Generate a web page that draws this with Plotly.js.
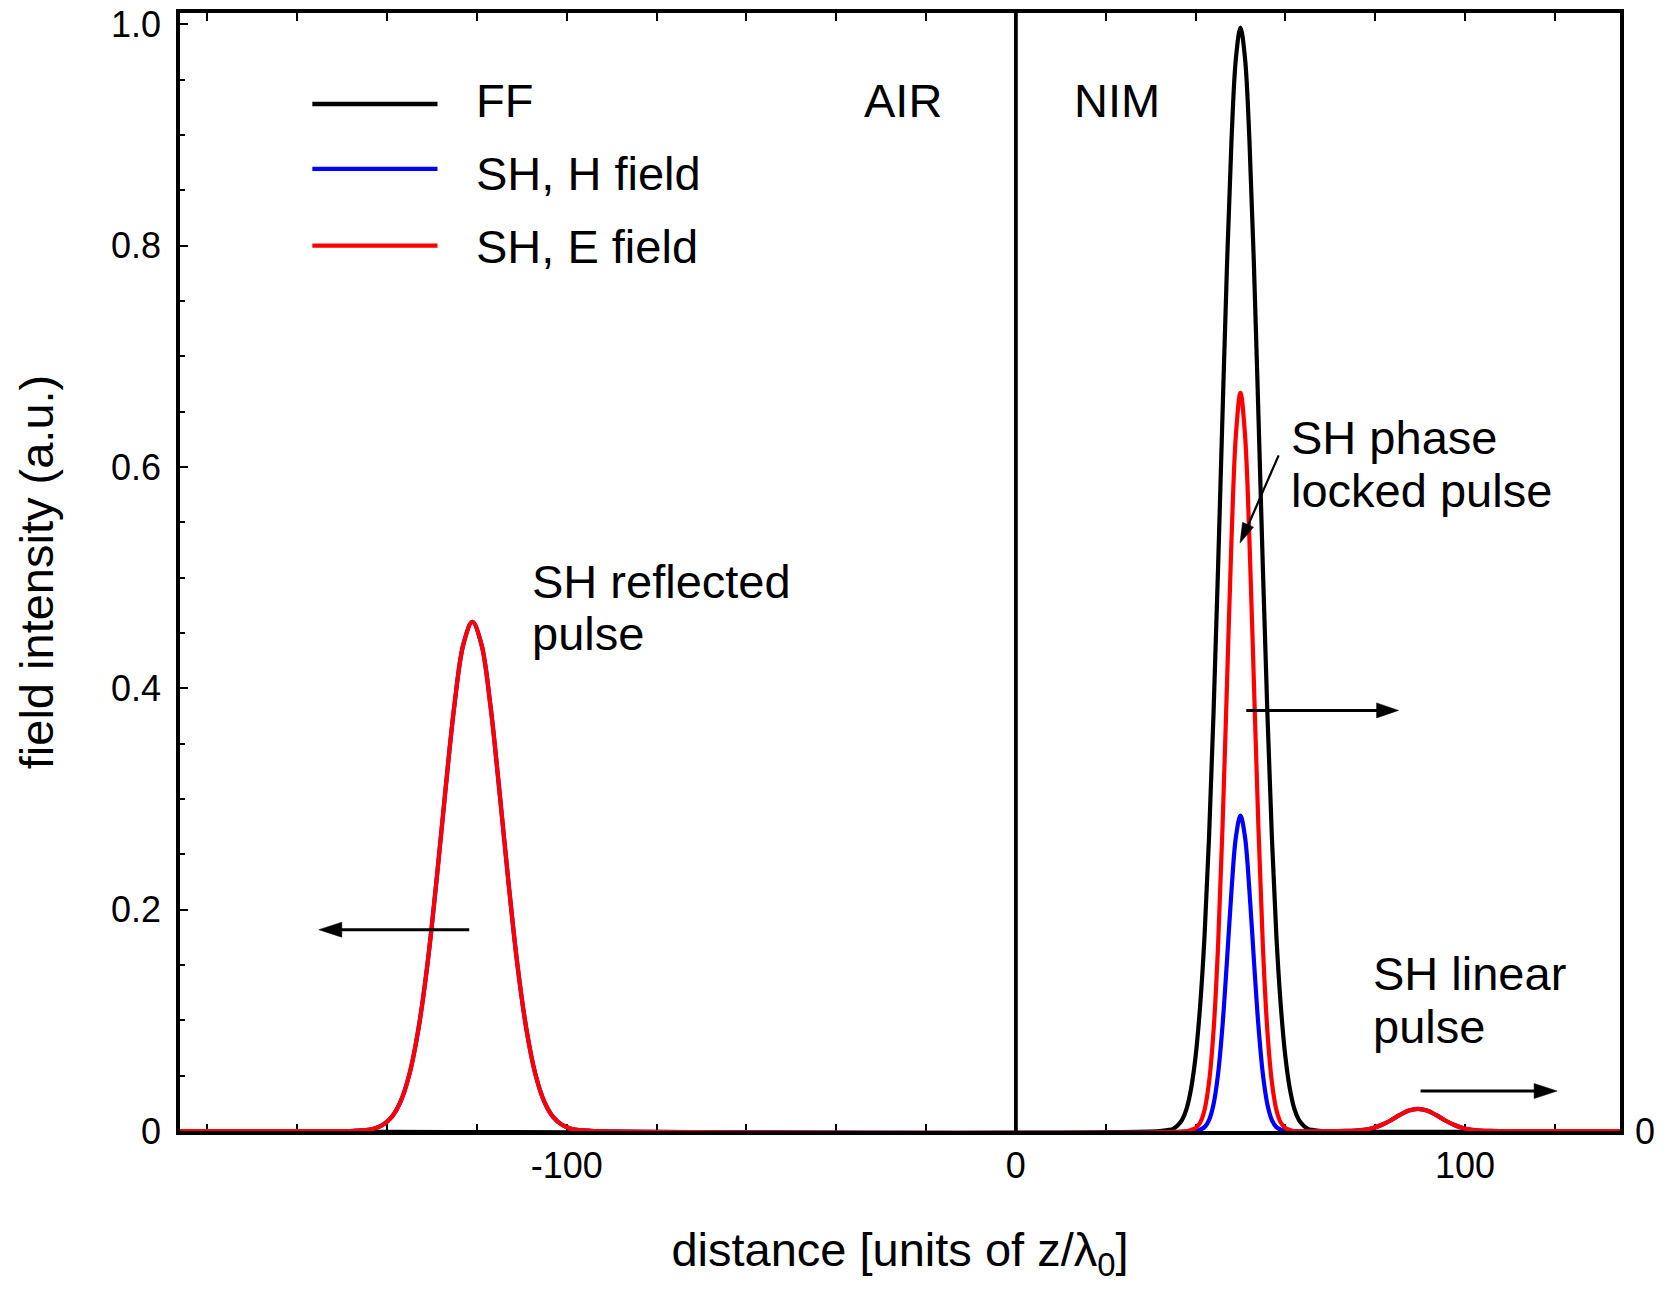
<!DOCTYPE html>
<html><head><meta charset="utf-8">
<script src="https://cdn.plot.ly/plotly-3.0.1.min.js"></script>
<style>html,body{margin:0;padding:0;background:#fff}#chart{width:1669px;height:1294px}</style>
</head><body><div id="chart"></div>
<script>
// ---- data ----
// distance axis in units of z/lambda0, intensity in a.u.
const ffX = [-190, 32, 34, 35, 36, 37, 38, 39, 40, 41, 42, 43, 44, 45, 46, 47, 48, 49, 50,
             51, 52, 53, 54, 55, 56, 57, 58, 59, 60, 61, 62, 63, 64, 65, 66, 68, 140];
const ffY = [0, 0, 0.001, 0.002, 0.005, 0.010, 0.020, 0.038, 0.067, 0.112, 0.176, 0.265, 0.377, 0.507, 0.647, 0.782, 0.895, 0.970, 0.997,
             0.970, 0.895, 0.782, 0.647, 0.507, 0.377, 0.265, 0.176, 0.112, 0.067, 0.038, 0.020, 0.010, 0.005, 0.002, 0.001, 0, 0];

// SH reflected pulse (in air)
const reflX = [-149, -147, -145, -143, -141, -139, -137, -135, -133, -131, -129, -127, -125, -123, -121,
               -119, -117, -115, -113, -111, -109, -107, -105, -103, -101, -99, -97, -95, -93];
const reflY = [0, 0.0003, 0.0008, 0.0021, 0.0054, 0.0125, 0.0266, 0.0518, 0.0926, 0.151, 0.226, 0.308, 0.385, 0.440, 0.460,
               0.440, 0.385, 0.308, 0.226, 0.151, 0.0926, 0.0518, 0.0266, 0.0125, 0.0054, 0.0021, 0.0008, 0.0003, 0];

// SH phase locked pulse, E field
const lockEX = [38, 39, 40, 41, 42, 43, 44, 45, 46, 47, 48, 49, 50, 51, 52, 53, 54, 55, 56, 57, 58, 59, 60, 61, 62];
const lockEY = [0, 0.001, 0.0026, 0.0074, 0.019, 0.044, 0.090, 0.166, 0.274, 0.404, 0.534, 0.630, 0.667,
                0.630, 0.534, 0.404, 0.274, 0.166, 0.090, 0.044, 0.019, 0.0074, 0.0026, 0.001, 0];

// SH phase locked pulse, H field
const lockHX = [40, 41, 42, 43, 44, 45, 46, 47, 48, 49, 50, 51, 52, 53, 54, 55, 56, 57, 58, 59, 60];
const lockHY = [0, 0.0011, 0.0035, 0.0099, 0.024, 0.051, 0.095, 0.154, 0.217, 0.266, 0.285,
                0.266, 0.217, 0.154, 0.095, 0.051, 0.024, 0.0099, 0.0035, 0.0011, 0];

// SH linear pulse
const linX = [71.5, 73.5, 75.5, 77.5, 79.5, 81.5, 83.5, 85.5, 87.5, 89.5, 91.5, 93.5, 95.5, 97.5, 99.5, 101.5, 103.5, 105.5, 107.5];
const linY = [0, 0.0001, 0.0004, 0.0011, 0.0027, 0.0056, 0.0097, 0.0145, 0.0185, 0.0200,
              0.0185, 0.0145, 0.0097, 0.0056, 0.0027, 0.0011, 0.0004, 0.0001, 0];

// baseline ends
const edgeX = [-190, 140];
const edgeY = [0, 0];

// AIR / NIM interface
const interfaceX = [0, 0];
const interfaceY = [0, 1.02];

const seriesNames = ['FF', 'SH, H field', 'SH, E field'];
const seriesColors = ['#000000', '#0000ff', '#ff0000'];

const xTickVals = [-100, 0, 100];
const xTickText = ['-100', '0', '100'];
const xMinorTickVals = [-180, -160, -140, -120, -80, -60, -40, -20, 20, 40, 60, 80, 120];
const yTickVals = [0, 0.2, 0.4, 0.6, 0.8, 1.0];
const yTickText = ['0', '0.2', '0.4', '0.6', '0.8', '1.0'];
const y2TickVals = [0];
const y2TickText = ['0'];

// ---- build ----
const shHX = [edgeX[0]].concat(reflX, lockHX, linX, [edgeX[1]]);
const shHY = [edgeY[0]].concat(reflY, lockHY, linY, [edgeY[1]]);
const shEX = [edgeX[0]].concat(reflX, lockEX, linX, [edgeX[1]]);
const shEY = [edgeY[0]].concat(reflY, lockEY, linY, [edgeY[1]]);

const FONT = '"Liberation Sans", Arial, Helvetica, sans-serif';
const LW = 4.2;

const traces = [
  {x: ffX, y: ffY, name: seriesNames[0], mode: 'lines', line: {color: seriesColors[0], width: LW, shape: 'spline'}, hoverinfo: 'skip'},
  {x: shHX, y: shHY, name: seriesNames[1], mode: 'lines', line: {color: seriesColors[1], width: LW, shape: 'spline'}, hoverinfo: 'skip'},
  {x: shEX, y: shEY, name: seriesNames[2], mode: 'lines', line: {color: seriesColors[2], width: LW, shape: 'spline'}, hoverinfo: 'skip'},
  {x: interfaceX, y: interfaceY, yaxis: 'y2', name: 'interface', mode: 'lines', line: {color: '#000', width: 3.8}, showlegend: false, hoverinfo: 'skip'}
];

// legend drawn by hand (long sample lines as in the reference)
const legY = [0.9186, 0.8605, 0.7919];
const legTextY = [0.9213, 0.856, 0.7907];
const shapes = [];
const annotations = [];
for (let i = 0; i < 3; i++) {
  shapes.push({type: 'line', xref: 'paper', yref: 'paper', x0: 0.0919, x1: 0.1788, y0: legY[i], y1: legY[i],
               line: {color: seriesColors[i], width: 4.3}});
  annotations.push({xref: 'paper', yref: 'paper', x: 0.2040, y: legTextY[i], xanchor: 'left', yanchor: 'middle',
                    text: seriesNames[i], showarrow: false, font: {size: 47, family: FONT, color: '#000'}});
}

function txt(x, y, t, anchor) {
  annotations.push({xref: 'paper', yref: 'paper', x: x, y: y, xanchor: anchor || 'left', yanchor: 'middle',
                    text: t, showarrow: false, font: {size: 47, family: FONT, color: '#000'}});
}
txt(0.5022, 0.9213, 'AIR', 'center');
txt(0.6507, 0.9213, 'NIM', 'center');
txt(0.2430, 0.4913, 'SH reflected');
txt(0.2430, 0.4452, 'pulse');
txt(0.7700, 0.6200, 'SH phase');
txt(0.7700, 0.5733, 'locked pulse');
txt(0.8270, 0.1413, 'SH linear');
txt(0.8270, 0.0939, 'pulse');

// arrows: line + filled slender head (pixel sized, anchored at the tip)
function arrowLine(x0, y0, x1, y1, w) {
  shapes.push({type: 'line', xref: 'x', yref: 'y', x0: x0, y0: y0, x1: x1, y1: y1, line: {color: '#000', width: w}});
}
function arrowHead(xt, yt, path) {
  shapes.push({type: 'path', xref: 'x', yref: 'y', xsizemode: 'pixel', ysizemode: 'pixel',
               xanchor: xt, yanchor: yt, path: path, fillcolor: '#000', line: {color: '#000', width: 0.5}});
}
// reflected pulse, moving left
arrowLine(-121.7, 0.1819, -151.5, 0.1819, 3);
arrowHead(-155.2, 0.1819, 'M0,0 L23,7.5 L23,-7.5 Z');
// phase locked pulse, moving right
arrowLine(51.3, 0.3801, 81.5, 0.3801, 3);
arrowHead(85.2, 0.3801, 'M0,0 L-22,7.5 L-22,-7.5 Z');
// linear pulse, moving right
arrowLine(90.1, 0.0361, 117.0, 0.0361, 3);
arrowHead(120.5, 0.0361, 'M0,0 L-23,7.5 L-23,-7.5 Z');
// pointer to locked pulse
arrowLine(58.5, 0.6105, 51.75, 0.5478, 2.2);
arrowHead(49.9, 0.5313, 'M0,0 L13.5,15.9 L2.5,20.7 Z');

const YR = [0, 1.0103];
const layout = {
  width: 1669, height: 1294,
  margin: {l: 180, r: 49, t: 13, b: 163},
  paper_bgcolor: '#ffffff', plot_bgcolor: '#ffffff',
  showlegend: false,
  font: {family: FONT, color: '#000', size: 36},
  xaxis: {
    range: [-186.1, 134.5], tickmode: 'array', tickvals: xTickVals, ticktext: xTickText,
    ticks: 'inside', ticklen: 7.5, tickwidth: 2, tickcolor: '#000',
    minor: {tickmode: 'array', tickvals: xMinorTickVals, ticks: 'inside', ticklen: 4.5, tickwidth: 2, tickcolor: '#000', showgrid: false},
    showline: true, linecolor: '#000', linewidth: 3.8, mirror: 'allticks',
    showgrid: false, zeroline: false, tickfont: {size: 36, family: FONT}, ticklabelstandoff: 1.5,
    title: {text: 'distance [units of z/λ<sub>0</sub>]', font: {size: 47, family: FONT}, standoff: 49},
    layer: 'below traces', automargin: false, fixedrange: true
  },
  yaxis: {
    range: YR, tickmode: 'array', tickvals: yTickVals, ticktext: yTickText,
    ticks: 'inside', ticklen: 7.5, tickwidth: 2, tickcolor: '#000',
    minor: {dtick: 0.05, tick0: 0, ticks: 'inside', ticklen: 4.5, tickwidth: 2, tickcolor: '#000', showgrid: false},
    showline: true, linecolor: '#000', linewidth: 3.8, mirror: true,
    showgrid: false, zeroline: false, tickfont: {size: 36, family: FONT}, ticklabelstandoff: 8,
    title: {text: 'field intensity (a.u.)', font: {size: 47, family: FONT}, standoff: 43},
    layer: 'below traces', automargin: false, fixedrange: true
  },
  yaxis2: {
    overlaying: 'y', side: 'right', anchor: 'x', range: YR,
    tickmode: 'array', tickvals: y2TickVals, ticktext: y2TickText, ticks: '',
    showline: false, showgrid: false, zeroline: false,
    tickfont: {size: 36, family: FONT}, ticklabelstandoff: 14, automargin: false, fixedrange: true
  },
  shapes: shapes,
  annotations: annotations
};

Plotly.newPlot('chart', traces, layout, {staticPlot: true, displayModeBar: false});
</script>
</body></html>
